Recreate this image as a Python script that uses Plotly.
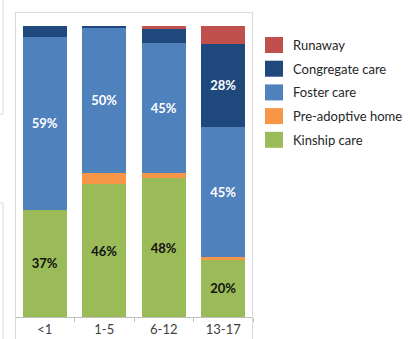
import plotly.graph_objects as go

# ---- data ----
categories = ["<1", "1-5", "6-12", "13-17"]
series_names = ["Kinship care", "Pre-adoptive home", "Foster care", "Congregate care", "Runaway"]
kinship = [36.8, 45.6, 47.6, 19.6]
pre_adoptive = [0.0, 4.0, 1.9, 0.9]
foster = [59.4, 49.7, 44.6, 44.9]
congregate = [3.8, 0.7, 5.0, 28.4]
runaway = [0.0, 0.0, 0.9, 6.2]
series_values = [kinship, pre_adoptive, foster, congregate, runaway]

colors = ["#9BBB59", "#F79646", "#4F81BD", "#1F497D", "#C0504D"]
text_colors = ["#111111", "#111111", "white", "white", "white"]

W, H = 410, 339
L, R, T, B = 15, 157, 26, 22
PW, PH = W - L - R, H - T - B

def px(x):
    return (x - L) / PW

def py(y):
    return (H - B - y) / PH

fig = go.Figure()
for name, vals, col, tcol in zip(series_names, series_values, colors, text_colors):
    labels = [f"{v:.0f}%" if v >= 10 else "" for v in vals]
    fig.add_trace(go.Bar(
        x=categories, y=vals, name=name,
        marker=dict(color=col, line=dict(width=0)),
        text=labels, textposition="inside", insidetextanchor="middle",
        textangle=0, constraintext="none",
        textfont=dict(family="Lato", size=13, color=tcol, weight="bold"),
        showlegend=False, hoverinfo="skip",
    ))

shapes = []
grey = "#d9d9d9"
# plot frame
shapes.append(dict(type="line", xref="paper", yref="paper", x0=px(15.5), x1=px(15.5), y0=py(12), y1=py(339), line=dict(color=grey, width=1)))
shapes.append(dict(type="line", xref="paper", yref="paper", x0=px(252.5), x1=px(252.5), y0=py(12), y1=py(339), line=dict(color=grey, width=1)))
shapes.append(dict(type="line", xref="paper", yref="paper", x0=px(15.5), x1=px(252.5), y0=py(12.5), y1=py(12.5), line=dict(color=grey, width=1)))
# left edge remnants
shapes.append(dict(type="line", xref="paper", yref="paper", x0=px(3), x1=px(3), y0=py(0), y1=py(114), line=dict(color=grey, width=1)))
shapes.append(dict(type="line", xref="paper", yref="paper", x0=px(0), x1=px(3), y0=py(114), y1=py(114), line=dict(color=grey, width=1)))
shapes.append(dict(type="line", xref="paper", yref="paper", x0=px(3), x1=px(3), y0=py(203), y1=py(339), line=dict(color=grey, width=1)))
shapes.append(dict(type="line", xref="paper", yref="paper", x0=px(0), x1=px(3), y0=py(203), y1=py(203), line=dict(color=grey, width=1)))

annotations = []
legend_order = list(range(len(series_names)))[::-1]
for i, k in enumerate(legend_order):
    cy = 45 + i * 23.7
    shapes.append(dict(type="rect", xref="paper", yref="paper",
                       x0=px(265), x1=px(283), y0=py(cy - 8), y1=py(cy + 8),
                       fillcolor=colors[k], line=dict(width=0)))
    annotations.append(dict(xref="paper", yref="paper", x=px(291), y=py(cy),
                            text=series_names[k], showarrow=False,
                            xanchor="left", yanchor="middle",
                            font=dict(family="Lato", size=13, color="#262626")))

fig.update_layout(
    barmode="stack", bargap=0.26,
    width=W, height=H,
    margin=dict(l=L, r=R, t=T, b=B, autoexpand=False),
    paper_bgcolor="white", plot_bgcolor="white",
    xaxis=dict(showline=True, linecolor="#bfbfbf", linewidth=1, automargin=False,
               ticks="outside", tickson="boundaries", ticklen=4, tickcolor="#bfbfbf",
               tickfont=dict(family="Lato", size=13, color="#404040"),
               showgrid=False, fixedrange=True),
    yaxis=dict(range=[0, 100], visible=False, showgrid=False, fixedrange=True, automargin=False),
    shapes=shapes, annotations=annotations,
    showlegend=False,
)

fig.write_html("out.html", config={"displayModeBar": False})
